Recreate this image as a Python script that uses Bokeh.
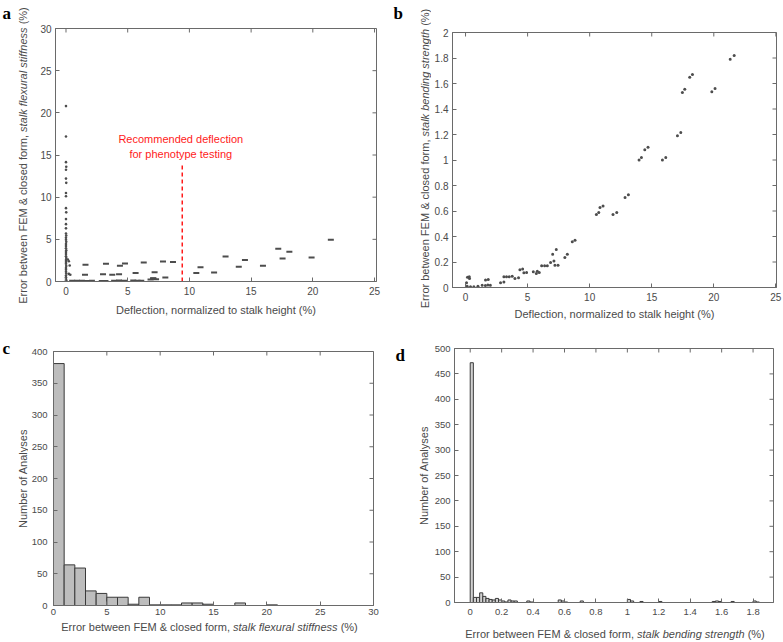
import math
from bokeh.plotting import figure
from bokeh.models import Range1d, FixedTicker, Label
from bokeh.layouts import row, column
from bokeh.embed import file_html
from bokeh.resources import INLINE

# ---------------- data ----------------
# panel a: error in flexural stiffness vs deflection
stiff_col_x = [0.0, 0.0, 0.0, 0.02, 0.0, 0.0, 0.02, 0.0, 0.0, 0.0, 0.02, 0.0, 0.0, 0.0, 0.0, 0.02,
               0.0, 0.0, 0.02, 0.0, 0.0, 0.0, 0.02, 0.0, 0.0, 0.0, 0.02, 0.0, 0.0, 0.0, 0.02, 0.0,
               0.0, 0.0, 0.02, 0.0, 0.0, 0.0, 0.02, 0.0, 0.23, 0.3, 0.23, 0.15, 0.35]
stiff_col_y = [20.8, 17.2, 14.15, 13.6, 13.25, 12.2, 11.7, 10.5, 10.1, 8.7, 8.2, 7.4, 6.8, 6.3, 5.7, 5.45,
               5.2, 4.95, 4.7, 4.45, 4.2, 3.95, 3.7, 3.5, 3.25, 3.0, 2.8, 2.55, 2.3, 2.1, 1.85, 1.6,
               1.4, 1.15, 0.95, 0.7, 0.5, 0.3, 0.15, 0.05, 2.4, 1.9, 0.9, 2.6, 0.8]
stiff_x = [1.58, 1.54, 3.24, 3.0, 3.75, 4.3, 4.37, 4.78, 5.64, 6.3, 7.18, 7.05, 7.86, 8.67, 8.05,
           10.56, 10.9, 12.0, 12.93, 14.0, 14.5, 15.96, 17.2, 17.55, 18.1, 19.9, 21.46,
           0.5, 0.9, 1.3, 1.7, 2.1, 2.9, 3.2, 3.9, 4.3, 4.7, 5.45, 5.8, 6.1, 6.85, 7.1, 7.3]
stiff_y = [1.98, 0.8, 2.1, 0.85, 0.8, 0.87, 1.86, 2.14, 1.0, 2.26, 1.1, 0.4, 2.38, 2.3, 0.48,
           1.0, 1.7, 1.07, 2.97, 1.74, 2.54, 1.86, 3.88, 2.73, 3.53, 2.85, 4.95,
           0.1, 0.08, 0.1, 0.06, 0.1, 0.05, 0.07, 0.1, 0.12, 0.08, 0.13, 0.1, 0.08, 0.25, 0.35, 0.28]
rec_deflection = 9.42
rec_line_top = 13.8

# panel b: error in bending strength vs deflection
strength_x = [21.32, 21.64, 19.84, 20.1, 18.06, 18.28, 17.47, 17.66, 17.07, 17.34, 15.86, 16.13,
              13.98, 14.17, 14.44, 14.7, 12.85, 13.12, 10.54, 10.73, 10.83, 11.08, 11.88, 12.18,
              8.6, 8.82, 8.0, 8.2, 7.02, 7.31, 6.85, 7.12, 7.2, 7.45, 6.59, 6.13, 6.37,
              5.46, 5.78, 5.7, 5.94, 4.38, 4.6, 4.7, 4.92, 3.98, 4.27, 3.52, 3.76, 3.09, 3.3,
              2.82, 3.09, 1.61, 1.83, 1.34, 2.0, 1.6, 1.8, 0.3, 0.32, 0.08, 0.16, 0.13, 0.4, 0.67, 1.0, 0.05]
strength_y = [1.79, 1.82, 1.535, 1.56, 1.65, 1.67, 1.53, 1.555, 1.19, 1.215, 1.0, 1.02,
              1.0, 1.02, 1.08, 1.1, 0.705, 0.727, 0.573, 0.588, 0.627, 0.64, 0.573, 0.588,
              0.358, 0.371, 0.235, 0.26, 0.26, 0.298, 0.196, 0.207, 0.175, 0.175, 0.17, 0.17, 0.17,
              0.123, 0.128, 0.11, 0.118, 0.14, 0.146, 0.115, 0.118, 0.07, 0.076, 0.084, 0.089, 0.084, 0.084,
              0.037, 0.044, 0.058, 0.063, 0.018, 0.018, 0.015, 0.02, 0.084, 0.07, 0.037, 0.08, 0.01, 0.005, 0.005, 0.01, 0.0]

# panel c: histogram of stiffness error (bins of 1 %)
stiff_bin_edges = list(range(0, 22))
stiff_counts = [381, 64, 59, 23, 19, 13, 13, 2, 13, 1, 1, 1, 4, 4, 2, 0, 0, 4, 0, 0, 1]

# panel d: histogram of strength error (bins of 0.02 %)
strength_bin_width = 0.02
strength_counts = [472, 10, 10, 19, 12, 8, 6, 5, 8, 5, 3, 1, 5, 3, 3, 0, 0, 0, 3, 1,
                   0, 0, 0, 0, 0, 0, 0, 0, 5, 3, 1, 0, 0, 0, 0, 3, 0, 0, 0, 0,
                   0, 0, 0, 0, 0, 0, 0, 0, 0, 0, 6, 3, 0, 0, 2, 0, 0, 0, 0, 0,
                   2, 0, 0, 0, 0, 0, 0, 0, 0, 0, 0, 0, 0, 0, 0, 0, 0, 2, 3, 2,
                   0, 0, 0, 2, 0, 0, 0, 0, 0, 0, 3, 1]

# ticks
a_xticks = [0, 5, 10, 15, 20, 25]
a_yticks = [0, 5, 10, 15, 20, 25, 30]
b_xticks = [0, 5, 10, 15, 20, 25]
b_yticks = [0, 0.2, 0.4, 0.6, 0.8, 1, 1.2, 1.4, 1.6, 1.8, 2]
b_ylabels = ["0", "0.2", "0.4", "0.6", "0.8", "1", "1.2", "1.4", "1.6", "1.8", "2"]
c_xticks = [0, 5, 10, 15, 20, 25, 30]
c_yticks = [0, 50, 100, 150, 200, 250, 300, 350, 400]
d_xticks = [0, 0.2, 0.4, 0.6, 0.8, 1, 1.2, 1.4, 1.6, 1.8]
d_xlabels = ["0", "0.2", "0.4", "0.6", "0.8", "1", "1.2", "1.4", "1.6", "1.8"]
d_yticks = [0, 50, 100, 150, 200, 250, 300, 350, 400, 450, 500]

# texts
stiff_label = [("Error between FEM & closed form, ", "normal"),
               ("stalk flexural stiffness", "italic"), (" (%)", "normal")]
strength_label = [("Error between FEM & closed form, ", "normal"),
                  ("stalk bending strength", "italic"), (" (%)", "normal")]
deflection_label = "Deflection, normalized to stalk height (%)"
count_label = "Number of Analyses"
rec_text = ["Recommended deflection", "for phenotype testing"]

# ---------------- styling helpers ----------------
FONT = "Liberation Sans"
TXT = "#4a4a4a"
LINE = "#6a6a6a"
PT = "#4d4d4d"

ARIAL = {' ': 278, ',': 278, '.': 278, '&': 667, '%': 889, '(': 333, ')': 333, '-': 333}
for ch, w in zip("abcdefghijklmnopqrstuvwxyz",
                 [556, 556, 500, 556, 556, 278, 556, 556, 222, 222, 500, 222, 833, 556, 556, 556,
                  556, 333, 500, 278, 556, 500, 722, 500, 500, 500]):
    ARIAL[ch] = w
for ch, w in zip("ABCDEFGHIJKLMNOPQRSTUVWXYZ",
                 [667, 667, 722, 722, 667, 611, 778, 722, 278, 500, 667, 556, 833, 722, 778, 667,
                  778, 722, 667, 611, 722, 667, 944, 667, 667, 611]):
    ARIAL[ch] = w


def text_width(s, size):
    return sum(ARIAL.get(c, 556) for c in s) * size / 1000.0


def strip(width, height):
    """A blank figure whose data units are pixels (y measured from the top), holding text."""
    s = figure(width=width, height=height, x_range=Range1d(0, width), y_range=Range1d(height, 0),
               output_backend="svg", toolbar_location=None, x_axis_type=None, y_axis_type=None,
               title=None, min_border_left=0, min_border_right=0, min_border_top=0,
               min_border_bottom=0, frame_align=False)
    s.xgrid.visible = False
    s.ygrid.visible = False
    s.outline_line_color = None
    return s


def make_fig(width, height, xr, yr, borders, xticks, yticks, tick_size,
             xlabel_over=None, ylabel_over=None):
    l, r, t, b = borders
    p = figure(width=width, height=height, x_range=Range1d(*xr), y_range=Range1d(*yr),
               output_backend="svg", toolbar_location=None, title=None, frame_align=False,
               min_border_left=l, min_border_right=r, min_border_top=t, min_border_bottom=b)
    p.xgrid.visible = False
    p.ygrid.visible = False
    p.outline_line_color = LINE
    p.outline_line_width = 1
    xa = p.below[0]
    ya = p.left[0]
    xa.ticker = FixedTicker(ticks=xticks)
    ya.ticker = FixedTicker(ticks=yticks)
    if xlabel_over:
        xa.major_label_overrides = xlabel_over
    if ylabel_over:
        ya.major_label_overrides = ylabel_over
    for ax in (xa, ya):
        ax.major_tick_in = 4
        ax.major_tick_out = 0
        ax.minor_tick_in = 0
        ax.minor_tick_out = 0
        ax.axis_line_color = LINE
        ax.major_tick_line_color = LINE
        ax.major_label_text_color = TXT
        ax.major_label_text_font = FONT
        ax.major_label_text_font_size = tick_size
        ax.axis_label_text_color = TXT
        ax.axis_label_text_font = FONT
        ax.axis_label_text_font_size = "11px"
        ax.axis_label_text_font_style = "normal"
    # mirrored inward ticks on the top and right edges (clipped to the frame)
    p.scatter(x=xticks, y=[yr[1]] * len(xticks), marker="dash", angle=math.pi / 2, size=8,
              line_color=LINE, line_width=1)
    p.scatter(x=[xr[1]] * len(yticks), y=yticks, marker="dash", size=8,
              line_color=LINE, line_width=1)
    return p, xa, ya


def rich_label(s, segments, cx, cy, vertical, size=11):
    """Mixed-style label centred at (cx, cy) in strip pixels (y from top)."""
    total = sum(text_width(t, size) for t, _ in segments)
    pos = -total / 2.0
    for t, style in segments:
        w = text_width(t, size)
        txt = t.strip()
        lead = text_width(t[:len(t) - len(t.lstrip())], size)
        mid = pos + lead + text_width(txt, size) / 2.0
        if vertical:
            lab = Label(x=cx, y=cy - mid, angle=math.pi / 2, text=txt,
                        text_align="center", text_baseline="middle")
        else:
            lab = Label(x=cx + mid, y=cy, text=txt,
                        text_align="center", text_baseline="middle")
        lab.text_font = FONT
        lab.text_font_size = "%dpx" % size
        lab.text_font_style = style
        lab.text_color = TXT
        s.add_layout(lab)
        pos += w


def plain_label(s, txt, cx, cy, vertical, size=11):
    s.add_layout(Label(x=cx, y=cy, angle=(math.pi / 2 if vertical else 0), text=txt,
                       text_align="center", text_baseline="middle", text_font=FONT,
                       text_font_size="%dpx" % size, text_color=TXT))


def letter(s, ch, x, y):
    s.add_layout(Label(x=x, y=y, text=ch, text_align="left", text_baseline="alphabetic",
                       text_font="Liberation Serif", text_font_size="17px",
                       text_font_style="bold", text_color="black"))


# ---------------- row 1 ----------------
H1 = 322
sa = strip(30, H1)
letter(sa, "a", 2, 13)
rich_label(sa, stiff_label, 22, 155, True)

a_xr = (-0.85, 25.16)
a_yr = (0, 30)
pa, pa_x, pa_y = make_fig(361, H1, a_xr, a_yr, (25, 15, 28, 41), a_xticks, a_yticks, "10px")
pa_x.axis_label = deflection_label
pa_x.major_label_standoff = 5
pa_x.axis_label_standoff = 6
pa_y.major_label_standoff = 4
pa.segment(x0=[rec_deflection], y0=[0], x1=[rec_deflection], y1=[rec_line_top],
           line_color="#ff1a1a", line_width=1.5, line_dash="4 3")
pa.scatter(stiff_col_x, stiff_col_y, marker="circle", size=2.6, fill_color=PT, line_color=None)
pa.scatter(stiff_x, stiff_y, marker="dash", size=6, line_width=2, line_color=PT)
for txt, yy in zip(rec_text, [16.85, 15.06]):
    pa.add_layout(Label(x=9.3, y=yy, text=txt, text_align="center", text_baseline="middle",
                        text_font=FONT, text_font_size="11px", text_color="#ff1a1a"))

sb = strip(40, H1)
letter(sb, "b", 2, 13)
rich_label(sb, strength_label, 33, 158, True)

b_xr = (-1.05, 25.05)
b_yr = (0, 2)
pb, pb_x, pb_y = make_fig(351, H1, b_xr, b_yr, (21, 6, 32, 35), b_xticks, b_yticks, "10px",
                          ylabel_over=dict(zip(b_yticks, b_ylabels)))
pb_x.axis_label = deflection_label
pb_x.major_label_standoff = 5
pb_x.axis_label_standoff = 4
pb_y.major_label_standoff = 4
pb.scatter(strength_x, strength_y, marker="circle", size=3, fill_color=PT, line_color=None)

# ---------------- row 2 ----------------
H2 = 298
Y2 = 322
sc = strip(28, H2)
letter(sc, "c", 2, 347.5 - Y2)
plain_label(sc, count_label, 22, 478 - Y2, True)

c_xr = (0, 30)
c_yr = (0, 400)
pc, pc_x, pc_y = make_fig(363, H2, c_xr, c_yr, (24, 18, 29, 15), c_xticks, c_yticks, "9.5px")
pc_y.major_label_standoff = 6
pc_x.major_label_standoff = 3
c_left = [stiff_bin_edges[i] for i in range(len(stiff_counts)) if stiff_counts[i] > 0]
c_right = [stiff_bin_edges[i + 1] for i in range(len(stiff_counts)) if stiff_counts[i] > 0]
c_top = [v for v in stiff_counts if v > 0]
pc.quad(left=c_left, right=c_right, bottom=0, top=c_top,
        fill_color="#bdbdbd", line_color="#3a3a3a", line_width=1)

sd = strip(40, H2)
letter(sd, "d", 4, 355 - Y2)
plain_label(sd, count_label, 32, 475 - Y2, True)

d_xr = (-0.1, 1.93)
d_yr = (0, 500)
pd, pd_x, pd_y = make_fig(351, H2, d_xr, d_yr, (21, 9, 26, 18), d_xticks, d_yticks, "9.5px",
                          xlabel_over=dict(zip(d_xticks, d_xlabels)))
pd_y.major_label_standoff = 4
pd_x.major_label_standoff = 6
d_left = [i * strength_bin_width for i in range(len(strength_counts)) if strength_counts[i] > 0]
d_right = [(i + 1) * strength_bin_width for i in range(len(strength_counts)) if strength_counts[i] > 0]
d_top = [v for v in strength_counts if v > 0]
pd.quad(left=d_left, right=d_right, bottom=0, top=d_top,
        fill_color="#d0d0d0", line_color="#3a3a3a", line_width=1)

# ---------------- row 3: x labels of c and d ----------------
H3 = 21
Y3 = 620
se = strip(782, H3)
rich_label(se, stiff_label, 209, 626 - Y3, False)
rich_label(se, strength_label, 614.5, 633 - Y3, False)

layout = column(row(sa, pa, sb, pb), row(sc, pc, sd, pd), se)
open("out.html", "w").write(file_html(layout, INLINE))
